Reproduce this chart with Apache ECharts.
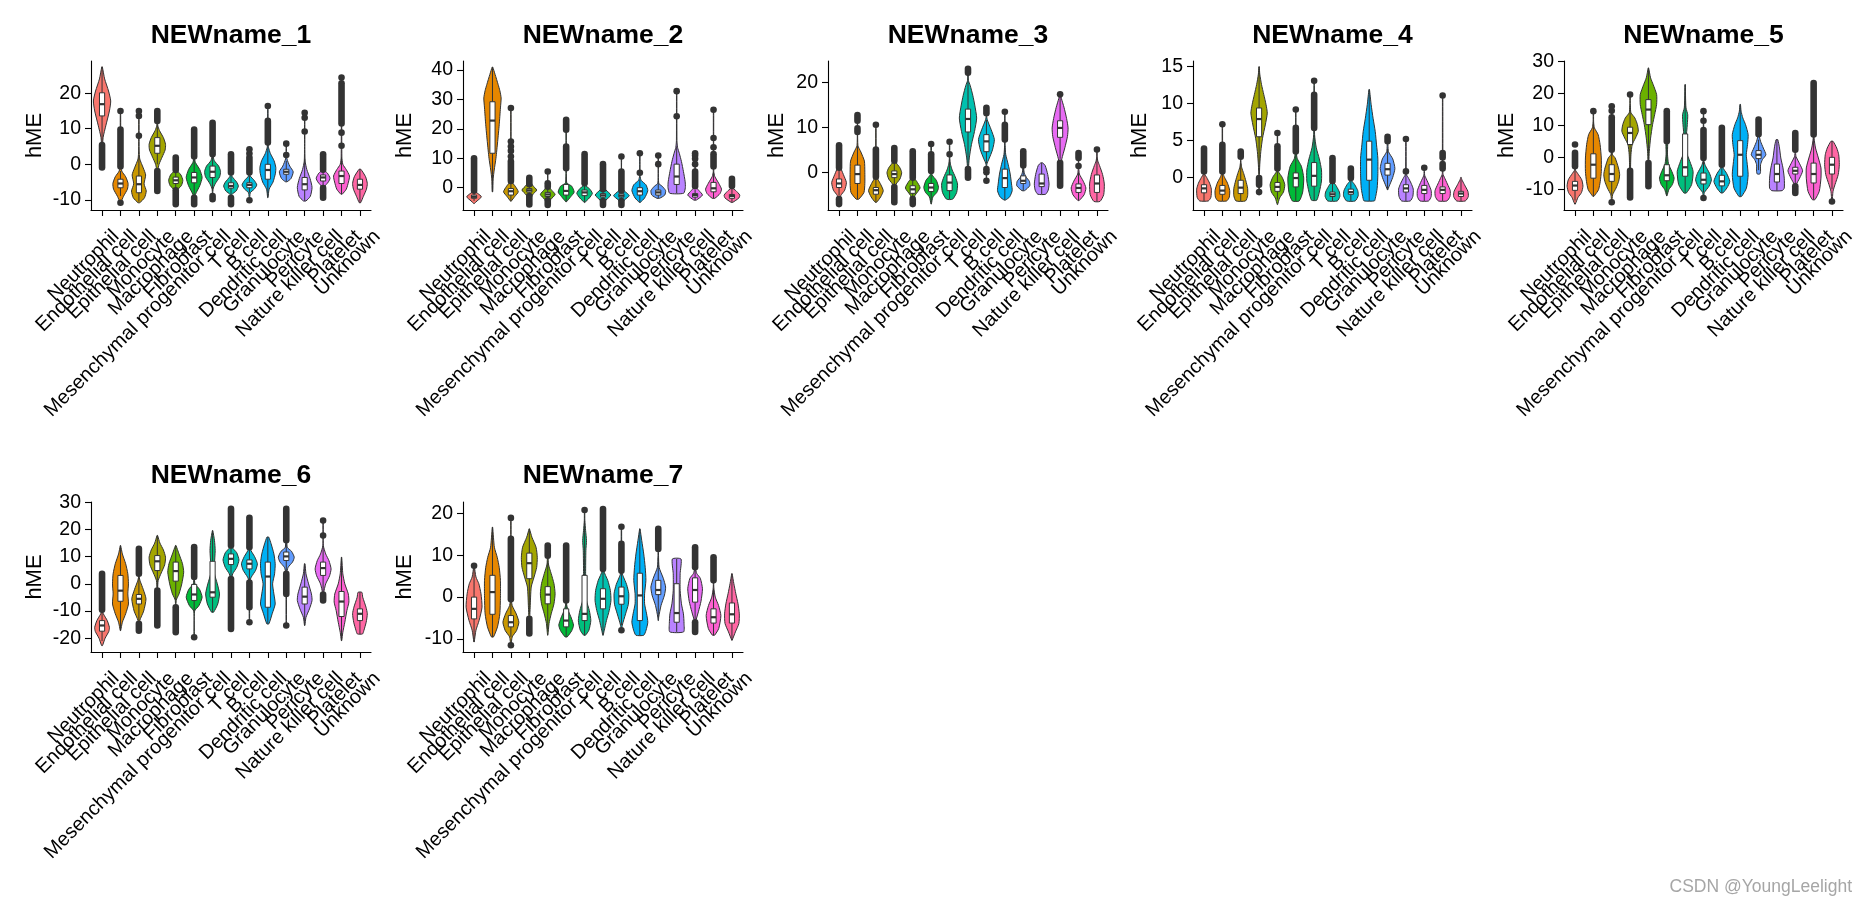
<!DOCTYPE html>
<html>
<head>
<meta charset="utf-8">
<script src="https://cdn.jsdelivr.net/npm/echarts@6/dist/echarts.min.js"></script>
<style>
html,body{margin:0;padding:0;background:#fff;}
#chart{width:1867px;height:906px;}
</style>
</head>
<body>
<div id="chart"></div>
<script>
// ---------------- DATA ----------------
const categories = ["Neutrophil","Endothelial cell","Epithelial cell","Monocyte","Macrophage","Fibroblast","Mesenchymal progenitor cell","T cell","B cell","Dendritic cell","Granulocyte","Pericyte","Nature killer cell","Platelet","Unknown"];
const titles = ["NEWname_1","NEWname_2","NEWname_3","NEWname_4","NEWname_5","NEWname_6","NEWname_7"];
const yAxisTitle = "hME";
const watermark = "CSDN @YoungLeelight";

const yTicks1 = [-10,0,10,20];
const yTicks2 = [0,10,20,30,40];
const yTicks3 = [0,10,20];
const yTicks4 = [0,5,10,15];
const yTicks5 = [-10,0,10,20,30];
const yTicks6 = [-20,-10,0,10,20,30];
const yTicks7 = [-10,0,10,20];
const yLimits = [[-12.85,29.04],[-7.58,43.05],[-8.42,24.84],[-4.43,15.77],[-16.43,30.05],[-25.05,30.1],[-13.1,22.7]];

// violin density profiles: [value, relative half-width]
const violin1 = [
 [[-0.9,0.03],[4,0.05],[7.5,0.12],[11,0.45],[15,0.85],[17.8,1],[20.6,0.75],[24,0.3],[27.4,0.03]],
 [[-10.8,0.03],[-9,0.35],[-7,0.8],[-5.4,0.88],[-3.5,0.6],[-1.9,0.15],[0,0.04],[15,0.02]],
 [[-10.8,0.1],[-9.4,0.65],[-7.5,0.85],[-5.5,0.6],[-3,0.78],[-1,0.5],[1.5,0.1],[4,0.03],[15,0.02]],
 [[-7.5,0.02],[-2,0.05],[0,0.2],[2,0.55],[4,0.9],[5.6,0.95],[7.5,0.7],[9.5,0.25],[11,0.05],[15,0.02]],
 [[-11.2,0.02],[-7.5,0.1],[-6,0.65],[-4.5,0.82],[-3,0.6],[-1.5,0.1],[1.9,0.02]],
 [[-11.2,0.02],[-8.5,0.15],[-6,0.65],[-3.7,0.92],[-1.5,0.65],[0.5,0.15],[2,0.03],[9.8,0.02]],
 [[-9.8,0.02],[-7,0.05],[-5.5,0.3],[-3.5,0.82],[-2,0.92],[-0.5,0.7],[1,0.2],[2.5,0.05],[11.7,0.02]],
 [[-11.2,0.02],[-8.5,0.1],[-7.5,0.6],[-6.1,0.85],[-5,0.65],[-3.5,0.15],[-2.5,0.03],[2.8,0.02]],
 [[-10.1,0.02],[-8,0.1],[-7,0.55],[-5.8,0.85],[-4.5,0.55],[-3.3,0.1],[-2,0.03],[4.2,0.02]],
 [[-9.4,0.02],[-7,0.15],[-5,0.6],[-2.5,0.88],[-0.9,0.92],[1,0.72],[3,0.3],[4.7,0.08],[6,0.03],[16.4,0.02]],
 [[-4.9,0.1],[-4,0.55],[-2.1,0.8],[-0.5,0.4],[1.5,0.08],[3,0.03],[5.8,0.02]],
 [[-10.3,0.15],[-9,0.65],[-6.5,0.85],[-4,0.62],[-1.5,0.25],[0.9,0.05],[5,0.02],[14.5,0.02]],
 [[-9.4,0.02],[-6.5,0.1],[-5,0.6],[-3.9,0.8],[-2.5,0.5],[-1.5,0.08],[2.8,0.02]],
 [[-8.4,0.08],[-7,0.55],[-5,0.8],[-3.3,0.92],[-1.5,0.55],[0,0.15],[2,0.04],[24.4,0.02]],
 [[-10.8,0.08],[-9,0.4],[-7,0.75],[-5.4,0.85],[-3.5,0.65],[-1.4,0.1]]
];
const box1 = [
 [6,13.6,16.9,20.1,27.4],[-8.9,-6.6,-5.4,-4.2,-1.9],[-10.5,-8,-5.6,-3.3,2],[0,3.1,5.2,7.5,11],
 [-7,-5.4,-4.5,-3.6,-1.9],[-9,-5.2,-3.7,-2.3,2],[-7.5,-3.7,-2.1,-0.5,2.5],[-8.5,-6.7,-6.1,-5.2,-3.3],
 [-8,-6.6,-5.8,-5.2,-3.3],[-9,-4.2,-1.6,0,5.5],[-4.9,-2.8,-2.1,-1.4,1],[-10.3,-7.2,-5.6,-3.7,1.5],
 [-6.5,-4.7,-3.7,-3,-1.5],[-8.4,-5.4,-3.3,-1.9,2],[-10.8,-7,-5.8,-4.2,-1.4]
];
const outlier1 = [
 [[-0.9,5.4]],[-10.8,[-0.6,9.8],15],[8,13.6,15],[[-7.5,-1.9],[12.2,15]],[[-11.2,-7.3],[-1.6,1.9]],
 [[-11.2,-9.4],[2.2,9.8]],[[-9.8,-8.9],[2.8,11.7]],[[-11.2,-9.4],[-2.3,2.8]],[-10.1,[-2.3,1.9],3,4.2],
 [[6.1,12.2],16.4],[2.6,5.8],[9.2,13.1,14.5],[[-9.4,-6.7],[-1.5,2.8]],[5.2,8.9,[11.5,22.8],24.4],[]
];

const violin2 = [
 [[-5.4,0.02],[-4.5,0.35],[-3.1,0.85],[-2,0.45],[-1,0.05],[10,0.02]],
 [[-1.4,0.03],[3,0.08],[6,0.2],[10,0.4],[15.7,0.6],[21.4,0.78],[27.1,0.92],[30.5,1],[33,0.85],[35.1,0.65],[38.5,0.3],[41,0.03]],
 [[-4.6,0.03],[-3,0.45],[-1.4,0.85],[0.5,0.5],[2,0.1],[4,0.03],[27.1,0.02]],
 [[-5.7,0.02],[-2.5,0.35],[-0.8,0.85],[0.9,0.35],[3.4,0.02]],
 [[-5.9,0.02],[-4,0.35],[-2.3,0.85],[-0.5,0.35],[1,0.03],[5.5,0.02]],
 [[-4.8,0.03],[-3,0.55],[-1.5,0.92],[0.5,0.65],[1.5,0.1],[3,0.03],[23.1,0.02]],
 [[-5,0.03],[-3.5,0.55],[-1.9,0.9],[-0.3,0.55],[1,0.05],[11.4,0.02]],
 [[-5.9,0.02],[-4.2,0.35],[-2.5,0.9],[-0.8,0.35],[0.5,0.03],[8,0.02]],
 [[-5.9,0.02],[-4.2,0.35],[-2.7,0.9],[-1.1,0.35],[0.5,0.03],[10.6,0.02]],
 [[-5,0.05],[-3.5,0.55],[-1,0.92],[1,0.7],[2.5,0.15],[4,0.03],[11.7,0.02]],
 [[-3.6,0.15],[-2.5,0.75],[-1,0.85],[0.5,0.45],[1.5,0.05],[10.9,0.02]],
 [[-1.9,0.8],[0,1],[2,0.98],[5.5,0.78],[8.9,0.55],[11.7,0.3],[13.7,0.1],[16,0.03],[32.8,0.02]],
 [[-4.2,0.15],[-2.5,0.85],[-1,0.45],[0.5,0.05],[11.7,0.02]],
 [[-3.6,0.15],[-2,0.75],[-0.5,0.92],[1.5,0.6],[3.8,0.15],[5.5,0.03],[26.5,0.02]],
 [[-5,0.08],[-3.5,0.8],[-2.5,0.9],[-1,0.45],[0,0.05],[3,0.02]]
];
const box2 = [
 [-4.5,-3.6,-3.1,-2.5,-1.4],[-1.4,11.7,22.8,29.2,41],[-4.6,-2.5,-1.2,-0.3,2],[-2.5,-1.5,-0.9,-0.3,0.9],
 [-4,-3,-2.3,-1.6,-0.2],[-4.8,-2.5,-1.1,1.1,3.5],[-5,-2.7,-1.6,-0.8,1],[-4.2,-3.2,-2.6,-2,-0.8],
 [-4.2,-3.2,-2.7,-2.1,-1.1],[-5,-2.5,-1.2,0,2.8],[-3.6,-2.5,-1.6,-0.8,1.5],[-1.9,1.1,3.8,8,14],
 [-4.2,-3.2,-2.5,-2,-0.8],[-3.6,-1.4,-0.2,1.8,5.5],[-5,-3.6,-2.8,-2.3,-0.2]
];
const outlier2 = [
 [[-1,10]],[],[[2.3,9],10.6,12.5,14,15.7,27.1],[[-5.7,-2.8],[1.2,3.4]],[[-5.9,-4.3],[0.3,1.5],5.5],
 [[6.6,14],[19.7,23.1]],[[1.5,11.4]],[[-5.9,-4.5],[-0.5,8]],[[-5.9,-4.5],[-1,5.5],10.6],[5.1,11.7],
 [8,10.9],[24.3,32.8],[[0.5,5.5],8,9.8,10.9,11.7],[[7.2,11.4],13.7,16.9,26.5],[[0.6,3]]
];

const violin3 = [
 [[-7.1,0.02],[-5.2,0.2],[-4,0.65],[-2.3,0.85],[-0.5,0.5],[1.8,0.05],[6,0.02]],
 [[-6,0.15],[-4.5,0.75],[-2.5,0.85],[0,0.85],[2.5,0.8],[4.5,0.4],[6,0.05],[12.8,0.02]],
 [[-6.7,0.08],[-5.5,0.55],[-4.1,0.85],[-2.5,0.5],[-1,0.08],[2,0.03],[10.6,0.02]],
 [[-6.7,0.02],[-3,0.1],[-1.5,0.65],[-0.1,0.85],[1,0.65],[2.5,0.1],[5.4,0.02]],
 [[-7.1,0.02],[-5.2,0.25],[-3.5,0.85],[-2,0.45],[-1,0.05],[4.5,0.02]],
 [[-7.1,0.02],[-5.5,0.2],[-4.5,0.65],[-3.4,0.85],[-1.8,0.6],[-0.5,0.1],[6.3,0.02]],
 [[-6,0.35],[-4.5,0.82],[-2.6,0.92],[-1,0.65],[0.5,0.3],[1.8,0.1],[3,0.03],[6.8,0.02]],
 [[-1.2,0.02],[0.7,0.05],[3.2,0.15],[6.2,0.4],[9.1,0.75],[12.1,1],[15,0.78],[17.2,0.55],[19.4,0.25],[20.5,0.05],[23.1,0.02]],
 [[-1.9,0.02],[1.8,0.05],[3,0.3],[5,0.7],[7.3,0.92],[9.5,0.55],[11.7,0.1],[12.5,0.03],[14.4,0.02]],
 [[-6.2,0.08],[-5.5,0.55],[-4.1,0.85],[-2.6,0.77],[-0.4,0.62],[1.8,0.38],[4,0.1],[6,0.03],[13.5,0.02]],
 [[-4.1,0.15],[-3,0.75],[-2,0.7],[-1,0.3],[0,0.1],[1.5,0.03],[4.7,0.02]],
 [[-4.9,0.45],[-4,0.75],[-2.6,0.85],[-0.5,0.7],[1.5,0.4],[2.1,0.1]],
 [[-3,0.02],[1,0.05],[3,0.2],[5.5,0.55],[8,0.85],[9.9,0.92],[12,0.75],[14.5,0.45],[16.5,0.15],[17.9,0.03]],
 [[-6.3,0.08],[-5,0.65],[-3.5,0.85],[-2,0.55],[-0.4,0.1],[1,0.03],[4.3,0.02]],
 [[-6.5,0.35],[-5,0.78],[-2.6,0.85],[-0.5,0.65],[1.5,0.3],[2.5,0.1],[3.5,0.03],[5.1,0.02]]
];
const box3 = [
 [-5.2,-3.4,-2.5,-1.5,0.5],[-6,-2.5,-0.4,1.6,6],[-6.7,-4.9,-4,-3.4,-1.2],[-3,-1.2,-0.4,0.3,2.3],
 [-5.5,-4.7,-3.8,-3,-1.5],[-6.8,-4.3,-3.4,-2.5,-0.5],[-6,-4.1,-2.3,-0.6,3],[1.5,9,11.9,14.1,20.5],
 [2,4.6,6.9,8.4,11.7],[-6.2,-3.4,-1.3,0.7,6],[-4.1,-2.5,-1.9,-0.8,1],[-4.9,-3.2,-2.5,-0.4,2.1],
 [3,7.8,9.9,11.5,17.4],[-6.3,-4.5,-3.5,-2.6,0],[-6.5,-4.5,-2.5,-0.6,3.5]
];
const outlier3 = [
 [[-7.1,-6],[1,6]],[[9,9.8],[11.5,12.8]],[[-1,5.1],10.6],[[-6.7,-3.3],[2.6,5.4]],[[-7.1,-6],[-1.2,4.7]],
 [[0.3,4],6.3],[4,6.8],[[-1.2,0.7],[22.2,23.1]],[-1.9,0,0.7,[13.2,14.4]],[[7.3,10.6],13.5],
 [[1.5,4.7]],[],[[-3,2.1],17.4],[1.4,[3.2,4.3]],[5.1]
];

const violin4 = [
 [[-3.2,0.5],[-2.7,0.8],[-1.6,0.85],[-0.8,0.65],[0,0.3],[0.4,0.08],[1,0.03],[3.9,0.02]],
 [[-3.2,0.5],[-2.7,0.8],[-1.8,0.85],[-0.8,0.6],[0,0.25],[0.5,0.08],[1,0.03],[7.2,0.02]],
 [[-3.2,0.55],[-2.5,0.8],[-1.5,0.8],[-0.5,0.6],[0.5,0.35],[1.3,0.12],[2,0.03],[3.5,0.02]],
 [[-2,0.02],[0,0.03],[1.7,0.08],[3.5,0.2],[5.3,0.4],[7.1,0.72],[8.7,0.95],[9.9,0.8],[11.2,0.55],[12.6,0.28],[14,0.08],[15,0.02]],
 [[-3.7,0.02],[-2.8,0.25],[-2,0.7],[-1,0.85],[0,0.55],[0.8,0.1],[1.5,0.03],[6,0.02]],
 [[-3.2,0.4],[-2,0.8],[-0.1,0.92],[1.5,0.65],[2.6,0.15],[4,0.03],[9.2,0.02]],
 [[-3.1,0.3],[-2,0.6],[-0.5,0.85],[1,0.85],[2.5,0.6],[4,0.25],[5.8,0.05],[13.1,0.02]],
 [[-3.2,0.55],[-2.6,0.85],[-2,0.8],[-1.2,0.45],[-0.6,0.1],[0,0.03],[2.6,0.02]],
 [[-3.2,0.5],[-2.5,0.85],[-1.8,0.8],[-1,0.45],[-0.4,0.08],[1.2,0.02]],
 [[-3.2,0.6],[-2.9,0.7],[-1.5,0.92],[0.3,1],[2.6,1],[4.4,0.85],[6.2,0.7],[8,0.45],[9.9,0.22],[11.9,0.03]],
 [[-1.7,0.02],[-1.3,0.15],[0,0.6],[1.2,0.85],[2.5,0.6],[3.5,0.1],[5.5,0.02]],
 [[-3.2,0.5],[-2.6,0.8],[-1.6,0.85],[-0.8,0.6],[0,0.25],[0.4,0.05],[5.2,0.02]],
 [[-3.2,0.5],[-2.6,0.8],[-1.8,0.8],[-0.9,0.5],[0,0.15],[0.3,0.04],[1.3,0.02]],
 [[-3.2,0.5],[-2.6,0.85],[-1.8,0.88],[-0.9,0.55],[0,0.2],[0.4,0.05],[1,0.03],[11.1,0.02]],
 [[-3.2,0.5],[-2.6,0.85],[-1.9,0.8],[-1,0.4],[-0.3,0.1],[0,0.02]]
];
const box4 = [
 [-3.2,-2.1,-1.5,-1,0.5],[-3.2,-2.3,-1.8,-1.1,0.6],[-3.2,-2.2,-1.4,-0.4,2],[1,5.5,7.9,9.4,15],
 [-3,-1.9,-1.3,-0.7,0.8],[-3.2,-1.3,-0.1,0.6,3],[-3.1,-1.2,0.2,2,5.8],[-3.2,-2.6,-2.3,-2,-0.8],
 [-3.2,-2.3,-2,-1.6,-0.5],[-3.2,-0.4,2.4,4.9,11.9],[-1.7,0.3,1.1,1.9,3.9],[-3.2,-2,-1.5,-1,0.3],
 [-3.2,-2.2,-1.7,-1.1,0.2],[-3.2,-2.2,-1.7,-1.3,0.3],[-3.2,-2.6,-2.2,-1.9,-0.3]
];
const outlier4 = [
 [[0.8,3.9]],[[0.8,4.4],7.2],[[2.8,3.5]],[[-1,-0.1],-2],[[1.2,4.2],6],[[3.5,6.7],9.2],
 [[6.7,11.2],13.1],[[-0.5,2.6]],[[-0.1,1.2]],[],[[4.9,5.5]],[0.8,5.2],[1.3],[[1.2,1.8],[2.7,3.3],11.1],[]
];

const violin5 = [
 [[-14.6,0.03],[-12.5,0.35],[-11,0.75],[-9,0.92],[-7,0.78],[-5,0.3],[-4,0.05],[-3,0.02]],
 [[-12.2,0.05],[-11.7,0.2],[-10.1,0.6],[-7.5,0.8],[-4.4,0.92],[-0.2,0.92],[4,0.78],[7.1,0.55],[9.2,0.12],[11,0.03],[14.4,0.02]],
 [[-14,0.02],[-11.7,0.1],[-9.6,0.5],[-7.5,0.8],[-5.4,0.92],[-3.3,0.78],[-0.2,0.4],[0.8,0.1],[2,0.03],[15.9,0.02]],
 [[-12.5,0.02],[-4,0.05],[0.8,0.1],[4,0.25],[6,0.62],[8.1,0.95],[10.2,0.85],[12.3,0.55],[13.9,0.1],[16,0.03],[19.6,0.02]],
 [[-9,0.02],[-1.5,0.05],[1.9,0.1],[6,0.25],[10.2,0.48],[13.3,0.72],[16.5,0.95],[19.6,0.95],[22.7,0.55],[24.8,0.25],[27.9,0.02]],
 [[-12,0.02],[-10,0.25],[-8.5,0.65],[-6.5,0.85],[-4.5,0.6],[-2,0.2],[1,0.08],[4,0.1],[5.5,0.03],[14.4,0.02]],
 [[-11.1,0.15],[-8.5,0.75],[-4.4,0.92],[-1.3,0.55],[1.9,0.12],[6,0.12],[10.2,0.25],[13.3,0.3],[15.4,0.1],[18.5,0.05],[22.7,0.02]],
 [[-12.7,0.02],[-11,0.1],[-9,0.65],[-7,0.92],[-5,0.7],[-2.5,0.2],[-1,0.05],[14.4,0.02]],
 [[-11.1,0.12],[-9.5,0.6],[-7.5,0.92],[-5,0.55],[-3,0.1],[9.2,0.02]],
 [[-12.2,0.15],[-9.6,0.72],[-5.4,0.92],[-1.3,0.78],[0.8,0.7],[4,0.85],[7.1,0.92],[10.2,0.62],[12.3,0.3],[14.4,0.1],[16.5,0.03]],
 [[-5.2,0.15],[-4.4,0.23],[-2.3,0.23],[-0.7,0.45],[0.8,0.85],[2.9,0.55],[5,0.23],[7.1,0.05],[11.8,0.02]],
 [[-10.4,0.6],[-9.6,0.85],[-6.5,0.85],[-3.3,0.7],[-0.2,0.45],[2.9,0.3],[5.5,0.1]],
 [[-11.1,0.02],[-8.5,0.12],[-6.5,0.5],[-4.2,0.85],[-2,0.5],[0.3,0.08],[2,0.02]],
 [[-13.2,0.15],[-10.6,0.65],[-6.5,0.85],[-3.3,0.85],[-0.2,0.55],[2.9,0.22],[6,0.05],[12.3,0.05],[23.2,0.02]],
 [[-13.8,0.02],[-10.6,0.12],[-8.5,0.35],[-5.4,0.72],[-2.3,0.85],[0.8,0.78],[2.9,0.55],[5,0.12]]
];
const box5 = [
 [-13.5,-10.3,-8.8,-7.5,-4.2],[-12.2,-6.5,-2.3,1.1,11],[-11.7,-7.5,-5.2,-2.3,2],[-3.5,4,7.6,9.4,16],
 [-1,10.2,14.9,18,27.9],[-12,-7.3,-5.6,-2.3,5],[-11.1,-5.9,-3.1,7.3,22.7],[-11,-8.3,-7,-4.9,-1],
 [-11.1,-8.9,-7.5,-5.6,-2.8],[-12.2,-5.9,0.8,5.2,16.5],[-4,-0.4,0.8,2.1,5.5],[-10.4,-7.7,-5.2,-2.1,5.5],
 [-8.5,-5.2,-4.2,-3.1,0.3],[-13.2,-8,-5.2,-1.8,7],[-10,-5.2,-2.3,0,5]
];
const outlier5 = [
 [[-2.8,1.4],4],[14.4],[-14,[2.4,12.5],14.5,15.9],[[-12.5,-4.2],19.6],[[-9,-1.8]],[[5,14.4]],[],
 [-12.7,[-0.2,8.5],11.4,14.4],[[-2.3,9.2]],[],[[7.2,11.8]],[],[[-11.1,-9],[2.4,7.6]],[[7.1,23.2]],[-13.8]
];

const violin6 = [
 [[-22.7,0.05],[-20,0.35],[-17.5,0.78],[-16,0.85],[-13.5,0.6],[-11,0.15],[-9.5,0.03],[3.7,0.02]],
 [[-17.2,0.02],[-14.1,0.22],[-11,0.6],[-7.4,0.92],[-3.7,0.85],[0,0.92],[3.7,0.85],[7.4,0.6],[11,0.22],[14.1,0.02]],
 [[-17.2,0.02],[-13.5,0.1],[-10,0.55],[-5.5,0.82],[-2,0.5],[1,0.15],[2.5,0.04],[12.9,0.02]],
 [[-15.3,0.02],[-2,0.04],[1.2,0.1],[4,0.45],[7,0.85],[9.8,0.95],[12.5,0.7],[15,0.3],[17.8,0.03]],
 [[-17.8,0.02],[-6.1,0.05],[-3.7,0.38],[0,0.7],[4.3,0.92],[7.4,0.78],[11,0.38],[14.1,0.03]],
 [[-19.6,0.02],[-10,0.05],[-8,0.55],[-4.9,0.92],[-2,0.62],[0,0.1],[2.5,0.03],[13.5,0.02]],
 [[-10.4,0.12],[-7.4,0.6],[-3.7,0.8],[0,0.55],[3.7,0.22],[7.4,0.22],[12.3,0.3],[16,0.22],[19.6,0.02]],
 [[-16.6,0.02],[1.5,0.05],[3.7,0.2],[6,0.65],[8.8,0.92],[11.5,0.65],[13.5,0.15],[27.6,0.02]],
 [[-14.1,0.02],[1,0.05],[2.5,0.22],[5,0.72],[7.4,0.92],[10,0.6],[12.9,0.1],[24.3,0.02]],
 [[-14.7,0.12],[-11,0.5],[-7.4,0.85],[-3.7,0.7],[0,0.55],[3.7,0.78],[7.4,0.85],[11,0.7],[14.7,0.38],[17.2,0.1]],
 [[-15.3,0.02],[4,0.05],[6.1,0.22],[8,0.72],[9.8,0.92],[12,0.6],[13.5,0.1],[27.6,0.02]],
 [[-15.3,0.02],[-12.3,0.15],[-9.2,0.55],[-6.1,0.85],[-3.7,0.78],[0,0.45],[3.7,0.15],[7.4,0.03]],
 [[-6.1,0.02],[-3.5,0.05],[0,0.3],[3,0.75],[5.5,0.92],[8.5,0.68],[11,0.3],[14.1,0.03],[23.3,0.02]],
 [[-20.9,0.02],[-17.8,0.15],[-14.1,0.38],[-9.8,0.62],[-6.7,0.85],[-3.7,0.78],[0,0.38],[3.7,0.15],[9.8,0.02]],
 [[-18.4,0.3],[-17.2,0.45],[-14.1,0.72],[-11,0.85],[-8.6,0.7],[-4.9,0.32],[-3.1,0.22]]
];
const box6 = [
 [-21,-17.4,-15.3,-13.5,-9.5],[-17.2,-6.4,-2.5,3.1,14.1],[-13.5,-7.4,-5.5,-3.9,2.5],[-2,4.9,8.3,10.4,17.8],
 [-6.1,1,4.7,8,14.1],[-10,-6.1,-3.9,-0.2,2.5],[-10.4,-4.9,-3.1,8.3,19.6],[1.5,7.1,9.2,11,17],
 [1,5.5,7.4,8.8,13],[-14.7,-8.6,2.7,8,17.2],[4.5,8.6,10.1,11.7,16],[-15.3,-7.4,-4.7,-1.2,7.4],
 [-3.5,3.1,5.8,8,14.1],[-20.9,-12,-6.5,-2.8,9.8],[-18.4,-13.5,-11,-9.2,-3.1]
];
const outlier6 = [
 [[-9.5,3.7]],[],[[-17.2,-14.7],[3.7,12.9]],[[-15.3,-2.5]],[[-17.8,-8.6]],[-19.6,[2.5,13.5]],[],
 [[-16.6,1.8],[14.1,27.6]],[-14.1,[-8.6,0.5],[13.5,24.3]],[],[-15.3,[-3.7,3.7],[16,27.6]],[],
 [[-6.1,-3.9],17.8,23.3],[],[]
];

const violin7 = [
 [[-10.7,0.02],[-7.9,0.22],[-5.6,0.58],[-2.4,0.92],[0.8,0.8],[3.2,0.55],[4.8,0.22],[7.5,0.02]],
 [[-9.5,0.12],[-7.1,0.58],[-4,0.85],[0,0.92],[4,0.92],[7.1,0.78],[9.5,0.55],[11.9,0.22],[16.7,0.02]],
 [[-11.5,0.02],[-9.5,0.15],[-8,0.65],[-6,0.92],[-4,0.62],[-2,0.15],[0,0.03],[18.9,0.02]],
 [[-8.7,0.02],[-5,0.05],[-2.4,0.1],[2.4,0.22],[4.8,0.55],[7.1,0.85],[9.5,0.92],[11.9,0.78],[14.3,0.3],[16.3,0.02]],
 [[-9.1,0.02],[-6.3,0.15],[-4,0.4],[-1.6,0.72],[0.8,0.85],[3.2,0.72],[5.6,0.4],[7.9,0.08],[12.3,0.02]],
 [[-9.5,0.12],[-8,0.65],[-6.7,0.85],[-5,0.6],[-3,0.2],[-1.6,0.05],[12.3,0.02]],
 [[-9.1,0.1],[-7.9,0.5],[-5.6,0.72],[-3.2,0.55],[-0.8,0.22],[2.4,0.15],[5.6,0.12],[11.1,0.15],[13.5,0.22],[15.9,0.12],[18.3,0.03],[20.8,0.02]],
 [[-9.1,0.02],[-7.9,0.15],[-5.6,0.4],[-3.2,0.72],[-0.8,0.92],[1.6,0.85],[4,0.55],[6.3,0.1],[21,0.02]],
 [[-7.9,0.02],[-6.7,0.1],[-4,0.48],[-1.7,0.8],[0.8,0.85],[3,0.6],[5,0.2],[6,0.05],[16.8,0.02]],
 [[-9.1,0.45],[-7.9,0.72],[-6,0.92],[-4,0.78],[-1.6,0.55],[0.8,0.55],[4,0.7],[7.1,0.62],[10.3,0.45],[13.5,0.22],[16.3,0.02]],
 [[-5.6,0.02],[-4.8,0.05],[-2,0.32],[0.5,0.72],[2.4,0.85],[4.5,0.58],[7.1,0.1],[10,0.03],[16.3,0.02]],
 [[-8.3,0.8],[-6.3,0.85],[-4,0.78],[-1.6,0.55],[1.6,0.4],[5.6,0.4],[9.1,0.5]],
 [[-8.3,0.02],[-6,0.05],[-3.5,0.38],[-1,0.68],[2,0.85],[4.5,0.6],[5.6,0.2],[7,0.03],[11.9,0.02]],
 [[-9.1,0.12],[-7.5,0.6],[-4.4,0.85],[-2,0.58],[0,0.2],[2.4,0.03],[9.5,0.02]],
 [[-10.3,0.02],[-8.3,0.4],[-6.3,0.8],[-4,0.85],[-1.6,0.7],[0.8,0.45],[3.2,0.22],[5.6,0.02]]
];
const box7 = [
 [-10.7,-5.2,-2.8,0,7.5],[-9.5,-4.1,1.2,5.2,16.7],[-9.5,-7.1,-6,-4.4,-1],[-4,4.4,8.1,10.5,16.3],
 [-8,-1.6,0.6,2.5,8.5],[-9.5,-7.1,-5.6,-2.8,-1],[-9.1,-5.6,-4,5.2,18.3],[-9.1,-2.8,-0.4,2,6.3],
 [-6.7,-1.7,0.2,2.4,6],[-9.1,-5.6,0.4,5.7,16.3],[-5,0.6,1.7,4,9.5],[-8.3,-6,-3.8,3.2,9.1],
 [-6,-1.2,1.7,4.6,7],[-9.1,-6.2,-4.8,-2.8,2],[-10.3,-6.2,-4.1,-1.4,5.6]
];
const outlier7 = [
 [7.5],[],[-11.5,[-0.5,13.9],18.9],[[-8.7,-5.2]],[[9.9,12.3]],[[-0.8,12.3]],[20.8],[[6.7,21]],
 [-7.9,[6.3,12.7],16.8],[],[[11.5,16.3]],[],[[-8.3,-6],[7.1,11.9]],[[4,9.5]],[]
];

// ---------------- STYLE / LAYOUT ----------------
const palette = ["#F8766D","#E58700","#C99800","#A3A500","#6BB100","#00BA38","#00BF7D","#00C0AF","#00BCD8","#00B0F6","#619CFF","#B983FF","#E76BF3","#FD61D1","#FF67A4"];
const FONT = "'Liberation Sans', Arial, Helvetica, sans-serif";
const panelLeft = [91,463,828,1193,1564,91,463];
const panelTop = [61,61,61,61,61,502,502];
const panelWidth = [280,280,280,279,279,280,280];
const panelHeight = [149,149,149,149,149,150,150];
const titleY = [36,36,36,36,36,476,476];
const yNameX = [35,405,777,1140,1507,35,405];

const violins = [violin1,violin2,violin3,violin4,violin5,violin6,violin7];
const boxes = [box1,box2,box3,box4,box5,box6,box7];
const outliers = [outlier1,outlier2,outlier3,outlier4,outlier5,outlier6,outlier7];
const yTicks = [yTicks1,yTicks2,yTicks3,yTicks4,yTicks5,yTicks6,yTicks7];
const xPositions = categories.map((c,i)=>i+1);
const INK = '#333333';

const grids=[], xAxes=[], yAxes=[], series=[], graphics=[];
for (let p=0;p<7;p++){
  grids.push({left:panelLeft[p], top:panelTop[p], width:panelWidth[p], height:panelHeight[p], containLabel:false});
  // data axis (ggplot-like discrete positions 1..15 with 0.6 expansion)
  xAxes.push({
    type:'value', gridIndex:p, min:0.4, max:15.6, position:'bottom',
    splitLine:{show:false},
    axisLine:{show:true, onZero:false, lineStyle:{color:'#000', width:1.1}},
    axisTick:{show:true, customValues:xPositions, length:6, lineStyle:{color:'#000', width:1.1}},
    axisLabel:{show:false}
  });
  // label axis
  xAxes.push({
    type:'category', gridIndex:p, data:categories, position:'bottom', boundaryGap:true,
    axisLine:{show:false}, axisTick:{show:false}, splitLine:{show:false},
    axisLabel:{show:true, interval:0, rotate:45,
      fontSize:20, fontFamily:FONT, color:'#000', margin:8,
      align:'right', verticalAlign:'top', padding:[12,0,0,0]}
  });
  yAxes.push({
    type:'value', gridIndex:p, min:yLimits[p][0], max:yLimits[p][1],
    splitLine:{show:false},
    axisLine:{show:true, onZero:false, lineStyle:{color:'#000', width:1.1}},
    axisTick:{show:true, customValues:yTicks[p], length:6, lineStyle:{color:'#000', width:1.1}},
    axisLabel:{show:true, customValues:yTicks[p], showMinLabel:true, showMaxLabel:true,
      fontSize:19.5, fontFamily:FONT, color:'#000', margin:10}
  });
  const xi = 2*p;
  const data = categories.map((c,i)=>[i+1, boxes[p][i][2]]);
  series.push({
    type:'custom', xAxisIndex:xi, yAxisIndex:p, data:data, encode:{x:0,y:1}, silent:true, z:2,
    renderItem:function(params, api){
      const i = params.dataIndex;
      const prof = violins[p][i];
      const cx = api.coord([i+1,0])[0];
      const half = api.size([1,0])[0]*0.47;
      const right = prof.map(d=>[cx + d[1]*half, api.coord([i+1,d[0]])[1]]);
      const left = prof.map(d=>[cx - d[1]*half, api.coord([i+1,d[0]])[1]]).reverse();
      return {type:'polygon', shape:{points:right.concat(left), smooth:0.2}, style:{fill:palette[i], stroke:INK, lineWidth:1}};
    }
  });
  series.push({
    type:'custom', xAxisIndex:xi, yAxisIndex:p, data:data, encode:{x:0,y:1}, silent:true, z:3,
    renderItem:function(params, api){
      const i = params.dataIndex;
      const cx = api.coord([i+1,0])[0];
      const children = outliers[p][i].map(o=>{
        if (Array.isArray(o)){
          const y1 = api.coord([i+1,o[0]])[1], y2 = api.coord([i+1,o[1]])[1];
          return {type:'line', shape:{x1:cx,y1:y1,x2:cx,y2:y2}, style:{stroke:INK, lineWidth:6.6, lineCap:'round'}};
        }
        return {type:'circle', shape:{cx:cx, cy:api.coord([i+1,o])[1], r:3.3}, style:{fill:INK}};
      });
      return {type:'group', children:children};
    }
  });
  series.push({
    type:'custom', xAxisIndex:xi, yAxisIndex:p, data:data, encode:{x:0,y:1}, silent:true, z:4,
    renderItem:function(params, api){
      const i = params.dataIndex;
      const b = boxes[p][i];
      const cx = api.coord([i+1,0])[0];
      const hw = api.size([1,0])[0]*0.14;
      const y = b.map(v=>api.coord([i+1,v])[1]);
      return {type:'group', children:[
        {type:'line', shape:{x1:cx,y1:y[0],x2:cx,y2:y[1]}, style:{stroke:INK,lineWidth:1}},
        {type:'line', shape:{x1:cx,y1:y[3],x2:cx,y2:y[4]}, style:{stroke:INK,lineWidth:1}},
        {type:'rect', shape:{x:cx-hw, y:y[3], width:2*hw, height:Math.max(y[1]-y[3],0.5)}, style:{fill:'#fff', stroke:INK, lineWidth:1}},
        {type:'line', shape:{x1:cx-hw,y1:y[2],x2:cx+hw,y2:y[2]}, style:{stroke:INK,lineWidth:2.2}}
      ]};
    }
  });
  graphics.push({type:'text', x:panelLeft[p]+panelWidth[p]/2, y:titleY[p],
    style:{text:titles[p], font:'bold 26.5px '+FONT, fill:'#000', textAlign:'center', textVerticalAlign:'middle'}});
  graphics.push({type:'text', x:yNameX[p], y:panelTop[p]+panelHeight[p]/2, rotation:Math.PI/2,
    style:{text:yAxisTitle, font:'22px '+FONT, fill:'#000', textAlign:'center', textVerticalAlign:'middle'}});
}
graphics.push({type:'text', x:1852, y:887,
  style:{text:watermark, font:'17.5px '+FONT, fill:'#a6a6a6', textAlign:'right', textVerticalAlign:'middle'}});

const chart = echarts.init(document.getElementById('chart'), null, {renderer:'canvas'});
chart.setOption({
  backgroundColor:'#fff',
  animation:false,
  grid:grids, xAxis:xAxes, yAxis:yAxes, series:series, graphic:graphics
});
</script>
</body>
</html>
